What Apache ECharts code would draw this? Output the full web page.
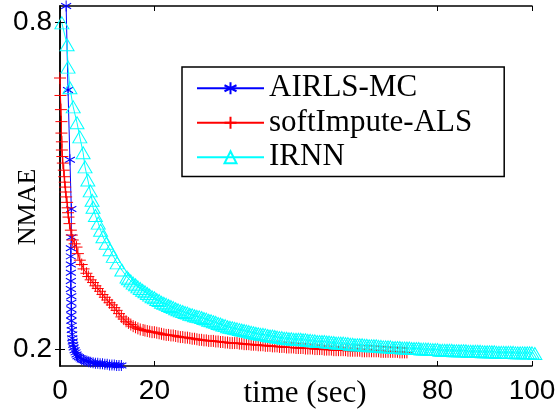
<!DOCTYPE html>
<html>
<head>
<meta charset="utf-8">
<script src="https://cdn.jsdelivr.net/npm/echarts@6/dist/echarts.min.js"></script>
<style>html,body{margin:0;padding:0;background:#fff}#c{width:560px;height:413px}</style>
</head>
<body>
<div id="c"></div>
<script>
// ---- data ----
var seriesNames = ['AIRLS-MC', 'softImpute-ALS', 'IRNN'];
var xTicks = [0, 20, 80, 100];
var yTicks = [0.2, 0.8];

var airlsTime = [1.3,1.7,2.1,2.4,2.4,2.3,2.3,2.3,2.3,2.3,2.3,2.4,2.4,2.4,2.4,2.4,2.5,2.5,2.6,2.6,2.7,2.8,2.9,3.1,3.3,3.5,3.7,4.0,4.3,4.6,5.0,5.3,5.7,6.1,6.5,7.0,7.5,8.0,8.5,9.0,9.5,10.0,10.5,11.0,11.5,12.0,12.5,13.0];
var airlsNmae = [0.829,0.675,0.547,0.457,0.405,0.385,0.370,0.355,0.340,0.325,0.310,0.297,0.285,0.273,0.262,0.252,0.243,0.235,0.227,0.220,0.214,0.208,0.203,0.198,0.194,0.190,0.187,0.185,0.183,0.181,0.180,0.179,0.178,0.177,0.176,0.175,0.174,0.174,0.173,0.173,0.172,0.172,0.171,0.171,0.171,0.170,0.170,0.170];

var softTime = [0.0,0.1,0.2,0.3,0.3,0.4,0.4,0.5,0.6,0.8,0.9,1.0,1.1,1.2,1.3,1.5,1.6,1.7,1.8,2.0,2.3,2.5,2.7,3.1,3.5,3.8,4.2,4.6,5.0,5.6,6.0,6.5,7.0,7.5,8.0,8.5,9.0,9.5,10.0,10.5,11.0,11.5,12.0,12.5,13.0,13.5,14.0,14.5,15.0,15.5,16.0,16.5,17.0,17.6,
  18,18.5,19,19.5,20,20.5,21,21.5,22,22.5,23,23.5,24,24.5,25,25.5,26,26.5,27,27.5,28,28.5,29,29.5,30,30.5,31,31.5,32,32.5,33,33.5,34,34.5,35,35.5,36,36.5,37,37.5,38,38.5,39,39.5,40,40.5,41,41.5,42,42.5,43,43.5,44,44.5,45,45.5,46,46.5,47,47.5,48,48.5,49,49.5,50,50.5,51,51.5,52,52.5,53,53.5,54,54.5,55,55.5,56,56.5,57,57.5,58,58.5,59,59.5,60,60.5,61,61.5,62,62.5,63,63.5,64,64.5,65,65.5,66,66.5,67,67.5,68,68.5,69,69.5,70,70.5,71,71.5,72,72.5,73,73.5];
var softNmae = [0.697,0.665,0.639,0.617,0.596,0.580,0.565,0.553,0.541,0.528,0.516,0.506,0.497,0.488,0.479,0.469,0.459,0.450,0.442,0.430,0.418,0.409,0.400,0.393,0.387,0.375,0.363,0.355,0.347,0.339,0.333,0.327,0.322,0.316,0.311,0.306,0.300,0.295,0.290,0.285,0.281,0.276,0.271,0.265,0.259,0.255,0.251,0.248,0.245,0.242,0.240,0.238,0.236,0.235,
  0.234,0.233,0.232,0.231,0.231,0.230,0.229,0.228,0.227,0.226,0.226,0.225,0.225,0.224,0.223,0.222,0.222,0.221,0.221,0.220,0.219,0.219,0.218,0.217,0.217,0.216,0.216,0.215,0.215,0.215,0.214,0.214,0.213,0.213,0.212,0.212,0.211,0.211,0.211,0.211,0.210,0.210,0.209,0.209,0.209,0.208,0.208,0.208,0.207,0.207,0.207,0.206,0.206,0.206,0.205,0.205,0.205,0.204,0.204,0.204,0.203,0.203,0.203,0.203,0.202,0.202,0.202,0.202,0.201,0.201,0.201,0.201,0.200,0.200,0.200,0.200,0.199,0.199,0.199,0.199,0.198,0.198,0.198,0.198,0.198,0.198,0.197,0.197,0.197,0.197,0.197,0.197,0.196,0.196,0.196,0.196,0.196,0.196,0.196,0.196,0.195,0.195,0.195,0.195,0.195,0.195,0.195,0.195,0.194,0.194,0.194,0.194];

var irnnTime = [0.4,1.5,1.7,2.1,2.8,3.6,4.2,4.9,5.3,5.9,6.4,6.8,7.0,7.5,8.1,8.6,9.1,9.8,10.6,11.3,12.1,13.1,14.2,
  14.5,15,15.5,16,16.5,17,17.5,18,18.5,19,19.5,20,20.5,21,21.5,22,22.5,23,23.5,24,24.5,25,25.5,26,26.5,27,27.5,28,28.5,29,29.5,30,30.5,31,31.5,32,32.5,33,33.5,34,34.5,35,35.5,36,36.5,37,37.5,38,38.5,39,39.5,40,40.5,41,41.5,42,42.5,43,43.5,44,44.5,45,45.5,46,46.5,47,47.5,48,48.5,49,49.5,50,
  50.5,51,51.5,52,52.5,53,53.5,54,54.5,55,55.5,56,56.5,57,57.5,58,58.5,59,59.5,60,60.5,61,61.5,62,62.5,63,63.5,64,64.5,65,65.5,66,66.5,67,67.5,68,68.5,69,69.5,70,70.5,71,71.5,72,72.5,73,73.5,74,74.5,75,75.5,76,76.5,77,77.5,78,78.5,79,79.5,80,80.5,81,81.5,82,82.5,83,83.5,84,84.5,85,85.5,86,86.5,87,87.5,88,88.5,89,89.5,90,90.5,91,91.5,92,92.5,93,93.5,94,94.5,95,95.5,96,96.5,97,97.5,98,98.5,99,99.5,100,100.6];
var irnnNmae = [0.798,0.758,0.717,0.679,0.644,0.615,0.589,0.560,0.534,0.510,0.490,0.473,0.460,0.445,0.431,0.418,0.406,0.394,0.382,0.370,0.358,0.345,0.332,
  0.329,0.325,0.321,0.318,0.314,0.311,0.308,0.305,0.302,0.299,0.296,0.294,0.291,0.289,0.286,0.284,0.282,0.280,0.278,0.276,0.274,0.272,0.270,0.269,0.267,0.266,0.264,0.263,0.261,0.260,0.259,0.258,0.256,0.255,0.253,0.252,0.250,0.249,0.247,0.246,0.244,0.243,0.241,0.240,0.239,0.238,0.237,0.236,0.235,0.234,0.233,0.232,0.231,0.230,0.229,0.228,0.227,0.227,0.226,0.225,0.224,0.224,0.223,0.222,0.221,0.221,0.220,0.220,0.219,0.219,0.218,0.218,
  0.218,0.218,0.217,0.217,0.216,0.216,0.215,0.215,0.214,0.214,0.214,0.214,0.213,0.213,0.212,0.212,0.211,0.211,0.211,0.211,0.210,0.210,0.209,0.209,0.208,0.208,0.208,0.208,0.207,0.207,0.206,0.206,0.206,0.206,0.205,0.205,0.204,0.204,0.204,0.204,0.203,0.203,0.203,0.203,0.202,0.202,0.202,0.202,0.201,0.201,0.201,0.201,0.200,0.200,0.200,0.200,0.199,0.199,0.199,0.199,0.198,0.198,0.198,0.198,0.198,0.198,0.197,0.197,0.197,0.197,0.197,0.197,0.196,0.196,0.196,0.196,0.196,0.196,0.195,0.195,0.195,0.195,0.195,0.195,0.194,0.194,0.194,0.194,0.194,0.194,0.194,0.194,0.193,0.193,0.193,0.193,0.193,0.193,0.193,0.193,0.192];

var colors = ['#0000ff', '#ff0000', '#00ffff'];

function pairs(t, v) { return t.map(function (x, i) { return [x, v[i]]; }); }

var SYM_AST = 'path://M0,-6L0,6M-5.2,-3L5.2,3M-5.2,3L5.2,-3';
var SYM_PLUS = 'path://M-1,0L1,0M0,-1L0,1';
var SYM_TRI = 'path://M0,-1L0.866,0.5L-0.866,0.5Z';

function mkSeries(name, data, color, symbol, size) {
  return {
    name: name, type: 'line', data: data, xAxisIndex: 0, yAxisIndex: 0,
    symbol: symbol, symbolSize: size, clip: false, showAllSymbol: true,
    lineStyle: { color: color, width: 1 },
    itemStyle: { color: 'rgba(255,255,255,0)', borderColor: color, borderWidth: 1 },
    emphasis: { disabled: true }, silent: true
  };
}

var chart = echarts.init(document.getElementById('c'), null, { renderer: 'canvas' });
var axisCommon = {
  axisLine: { show: true, lineStyle: { color: '#000', width: 1.5 } },
  splitLine: { show: false }
};
chart.setOption({
  animation: false,
  backgroundColor: '#fff',
  grid: { left: 60, right: 28, top: 6, bottom: 47, containLabel: false, outerBoundsMode: 'none' },
  xAxis: [
    Object.assign({}, axisCommon, {
      type: 'value', position: 'bottom', min: 0, max: 100, interval: 20,
      axisTick: { show: true, inside: true, length: 5, customValues: xTicks, lineStyle: { color: '#000' } },
      axisLabel: { show: true, margin: 11, customValues: xTicks, color: '#000', fontFamily: 'Liberation Sans', fontSize: 28 }
    }),
    Object.assign({}, axisCommon, {
      type: 'value', position: 'top', min: 0, max: 100, interval: 20,
      axisTick: { show: true, inside: true, length: 5, customValues: xTicks, lineStyle: { color: '#000' } },
      axisLabel: { show: false }
    })
  ],
  yAxis: [
    Object.assign({}, axisCommon, {
      type: 'value', position: 'left', min: 0.169, max: 0.829,
      axisTick: { show: true, inside: true, length: 5, customValues: yTicks, lineStyle: { color: '#000' } },
      axisLabel: { show: true, margin: 8, customValues: yTicks, color: '#000', fontFamily: 'Liberation Sans', fontSize: 28,
        formatter: function (v) { return v.toFixed(1); } }
    }),
    Object.assign({}, axisCommon, {
      type: 'value', position: 'right', min: 0.169, max: 0.829,
      axisTick: { show: true, inside: true, length: 5, customValues: yTicks, lineStyle: { color: '#000' } },
      axisLabel: { show: false }
    })
  ],
  legend: {
    orient: 'vertical', left: 182, top: 67,
    backgroundColor: '#fff', borderColor: '#000', borderWidth: 1.5,
    padding: [4, 32, 2, 14], itemGap: 0, itemWidth: 67, itemHeight: 15,
    textStyle: { fontFamily: 'Liberation Serif', fontSize: 31, color: '#000', lineHeight: 34.5 },
    data: seriesNames, selectedMode: false
  },
  graphic: [
    { type: 'text', x: 28, y: 207, rotation: Math.PI / 2,
      style: { text: 'NMAE', font: '26px "Liberation Serif"', fill: '#000', align: 'center', verticalAlign: 'middle' } },
    { type: 'text', x: 305, y: 394,
      style: { text: 'time (sec)', font: '31px "Liberation Serif"', fill: '#000', align: 'center', verticalAlign: 'middle' } }
  ],
  series: [
    mkSeries(seriesNames[0], pairs(airlsTime, airlsNmae), colors[0], SYM_AST, [10, 11]),
    mkSeries(seriesNames[1], pairs(softTime, softNmae), colors[1], SYM_PLUS, [12, 12]),
    mkSeries(seriesNames[2], pairs(irnnTime, irnnNmae), colors[2], SYM_TRI, [14, 12])
  ]
});
</script>
</body>
</html>
